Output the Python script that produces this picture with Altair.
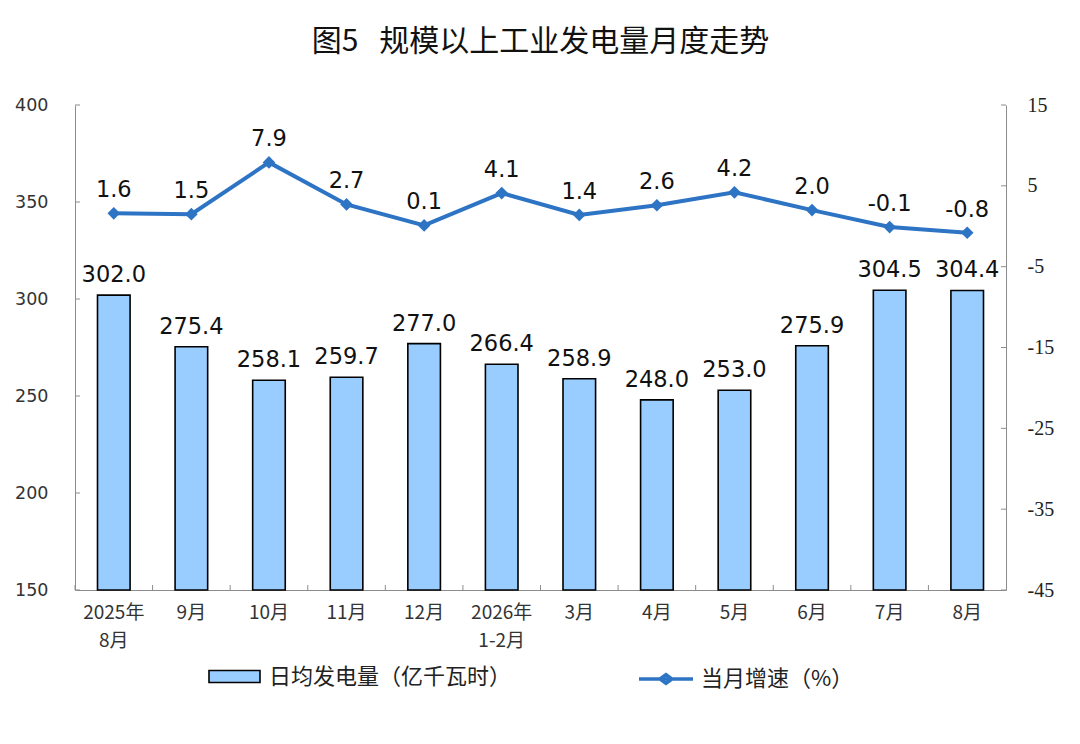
import altair as alt
import pandas as pd

cats = ["2025年|8月", "9月", "10月", "11月", "12月", "2026年|1-2月",
        "3月", "4月", "5月", "6月", "7月", "8月"]
power = [302.0, 275.4, 258.1, 259.7, 277.0, 266.4, 258.9, 248.0, 253.0, 275.9, 304.5, 304.4]
growth = [1.6, 1.5, 7.9, 2.7, 0.1, 4.1, 1.4, 2.6, 4.2, 2.0, -0.1, -0.8]
left_ticks = [150, 200, 250, 300, 350, 400]
right_ticks = [15, 5, -5, -15, -25, -35, -45]
bar_name = "日均发电量（亿千瓦时）"
line_name = "当月增速（%）"
title_text = "图5\u2002\u2009规模以上工业发电量月度走势"

W, H = 931, 485
CJK = "Noto Sans CJK SC"
NUM = "DejaVu Sans"
BLUE = "#2E74C4"
BARFILL = "#99CCFF"
AXIS = "#8c8c8c"

df = pd.DataFrame({
    "cat": cats, "power": power, "growth": growth,
    "plabel": [f"{v:.1f}" for v in power],
    "glabel": [f"{v:.1f}" for v in growth],
    "bs": bar_name, "ls": line_name,
})
lt = pd.DataFrame({"power": left_ticks})
rt = pd.DataFrame({"growth": right_ticks})
ct = pd.DataFrame({"cat": cats})

x_axis = alt.Axis(title=None, labelAngle=0,
                  labelExpr="split(datum.label, '|')",
                  ticks=False, domainColor=AXIS, domainWidth=1,
                  labelFont=CJK, labelFontSize=19, labelColor="#333",
                  labelPadding=13, labelLineHeight=28)
x_scale = alt.Scale(paddingInner=0, paddingOuter=0)
x_enc = alt.X("cat:N", sort=cats, scale=x_scale, axis=x_axis)
x_tick = alt.X("cat:N", sort=cats, scale=x_scale, axis=x_axis, bandPosition=0)

yl_scale = alt.Scale(domain=[150, 400], nice=False, zero=False)
yr_scale = alt.Scale(domain=[-45, 15], nice=False, zero=False)

y_l = alt.Y("power:Q", scale=yl_scale,
            axis=alt.Axis(title=None, values=left_ticks, ticks=False, tickSize=0,
                          labelPadding=27, labelFont=NUM,
                          labelFontSize=17.5, labelColor="#333",
                          domainColor=AXIS, grid=False))
y_r = alt.Y("growth:Q", scale=yr_scale,
            axis=alt.Axis(title=None, orient="right", values=right_ticks,
                          labelExpr="'' + datum.value", ticks=False, tickSize=0,
                          labelPadding=21, labelFont="Liberation Serif",
                          labelFontSize=20, labelColor="#222",
                          domainColor=AXIS, grid=False))

bars = alt.Chart(df).mark_bar(width=alt.RelativeBandSize(0.42), stroke="black",
                              strokeWidth=1.6).encode(
    x=x_enc,
    y=y_l,
    y2=alt.datum(150),
    fill=alt.Fill("bs:N", scale=alt.Scale(domain=[bar_name], range=[BARFILL]),
                  legend=alt.Legend(title=None, orient="none", legendX=133, legendY=545,
                                    symbolType="M-1,-0.235H1V0.235H-1Z",
                                    symbolSize=2601, symbolStrokeColor="black",
                                    symbolStrokeWidth=1.6, labelFont=CJK,
                                    labelFontSize=22, labelColor="#222",
                                    labelOffset=8, labelLimit=500, padding=0)),
)

bar_text = alt.Chart(df).mark_text(dy=-13, baseline="alphabetic", fontSize=22.5,
                                   font=NUM, color="#111").encode(
    x=x_enc, y=y_l, text="plabel:N")

left_tick_rules = alt.Chart(lt).mark_rule(color=AXIS).encode(
    y=y_l, x=alt.value(0), x2=alt.value(5))

bottom_tick_rules = alt.Chart(ct).mark_rule(color=AXIS).encode(
    x=x_tick, y=alt.value(H), y2=alt.value(H - 5))

line = alt.Chart(df).mark_line(strokeWidth=4).encode(
    x=x_enc, y=y_r,
    stroke=alt.Stroke("ls:N", scale=alt.Scale(domain=[line_name], range=[BLUE]),
                      legend=alt.Legend(title=None, orient="none", legendX=562, legendY=545,
                                        symbolType="M-1,0H1M-0.22,0L0,-0.16L0.22,0L0,0.16Z",
                                        symbolSize=2916, symbolStrokeWidth=3.5,
                                        labelFont=CJK, labelFontSize=22,
                                        labelColor="#222", labelOffset=6,
                                        labelLimit=500, padding=0)),
)

points = alt.Chart(df).mark_point(shape="diamond", filled=True, size=160,
                                  color=BLUE, opacity=1).encode(x=x_enc, y=y_r)

line_text = alt.Chart(df).mark_text(dy=-16, baseline="alphabetic", fontSize=22.5,
                                    font=NUM, color="#111").encode(
    x=x_enc, y=y_r, text="glabel:N")

right_tick_rules = alt.Chart(rt).mark_rule(color=AXIS).encode(
    y=y_r, x=alt.value(W - 5), x2=alt.value(W))

left_group = alt.layer(bars, bar_text, left_tick_rules, bottom_tick_rules)
right_group = alt.layer(line, points, line_text, right_tick_rules)

chart = alt.layer(left_group, right_group).resolve_scale(y="independent").properties(
    width=W, height=H,
    autosize=alt.AutoSizeParams(type="none"),
    padding={"left": 67, "top": 97, "right": 66, "bottom": 146},
    title=alt.Title(title_text, fontSize=30, font=CJK, fontWeight="normal",
                    color="#111", anchor="middle", offset=38),
).configure_view(stroke=None)

chart.save("out.html", embed_options={"renderer": "svg", "actions": False})
